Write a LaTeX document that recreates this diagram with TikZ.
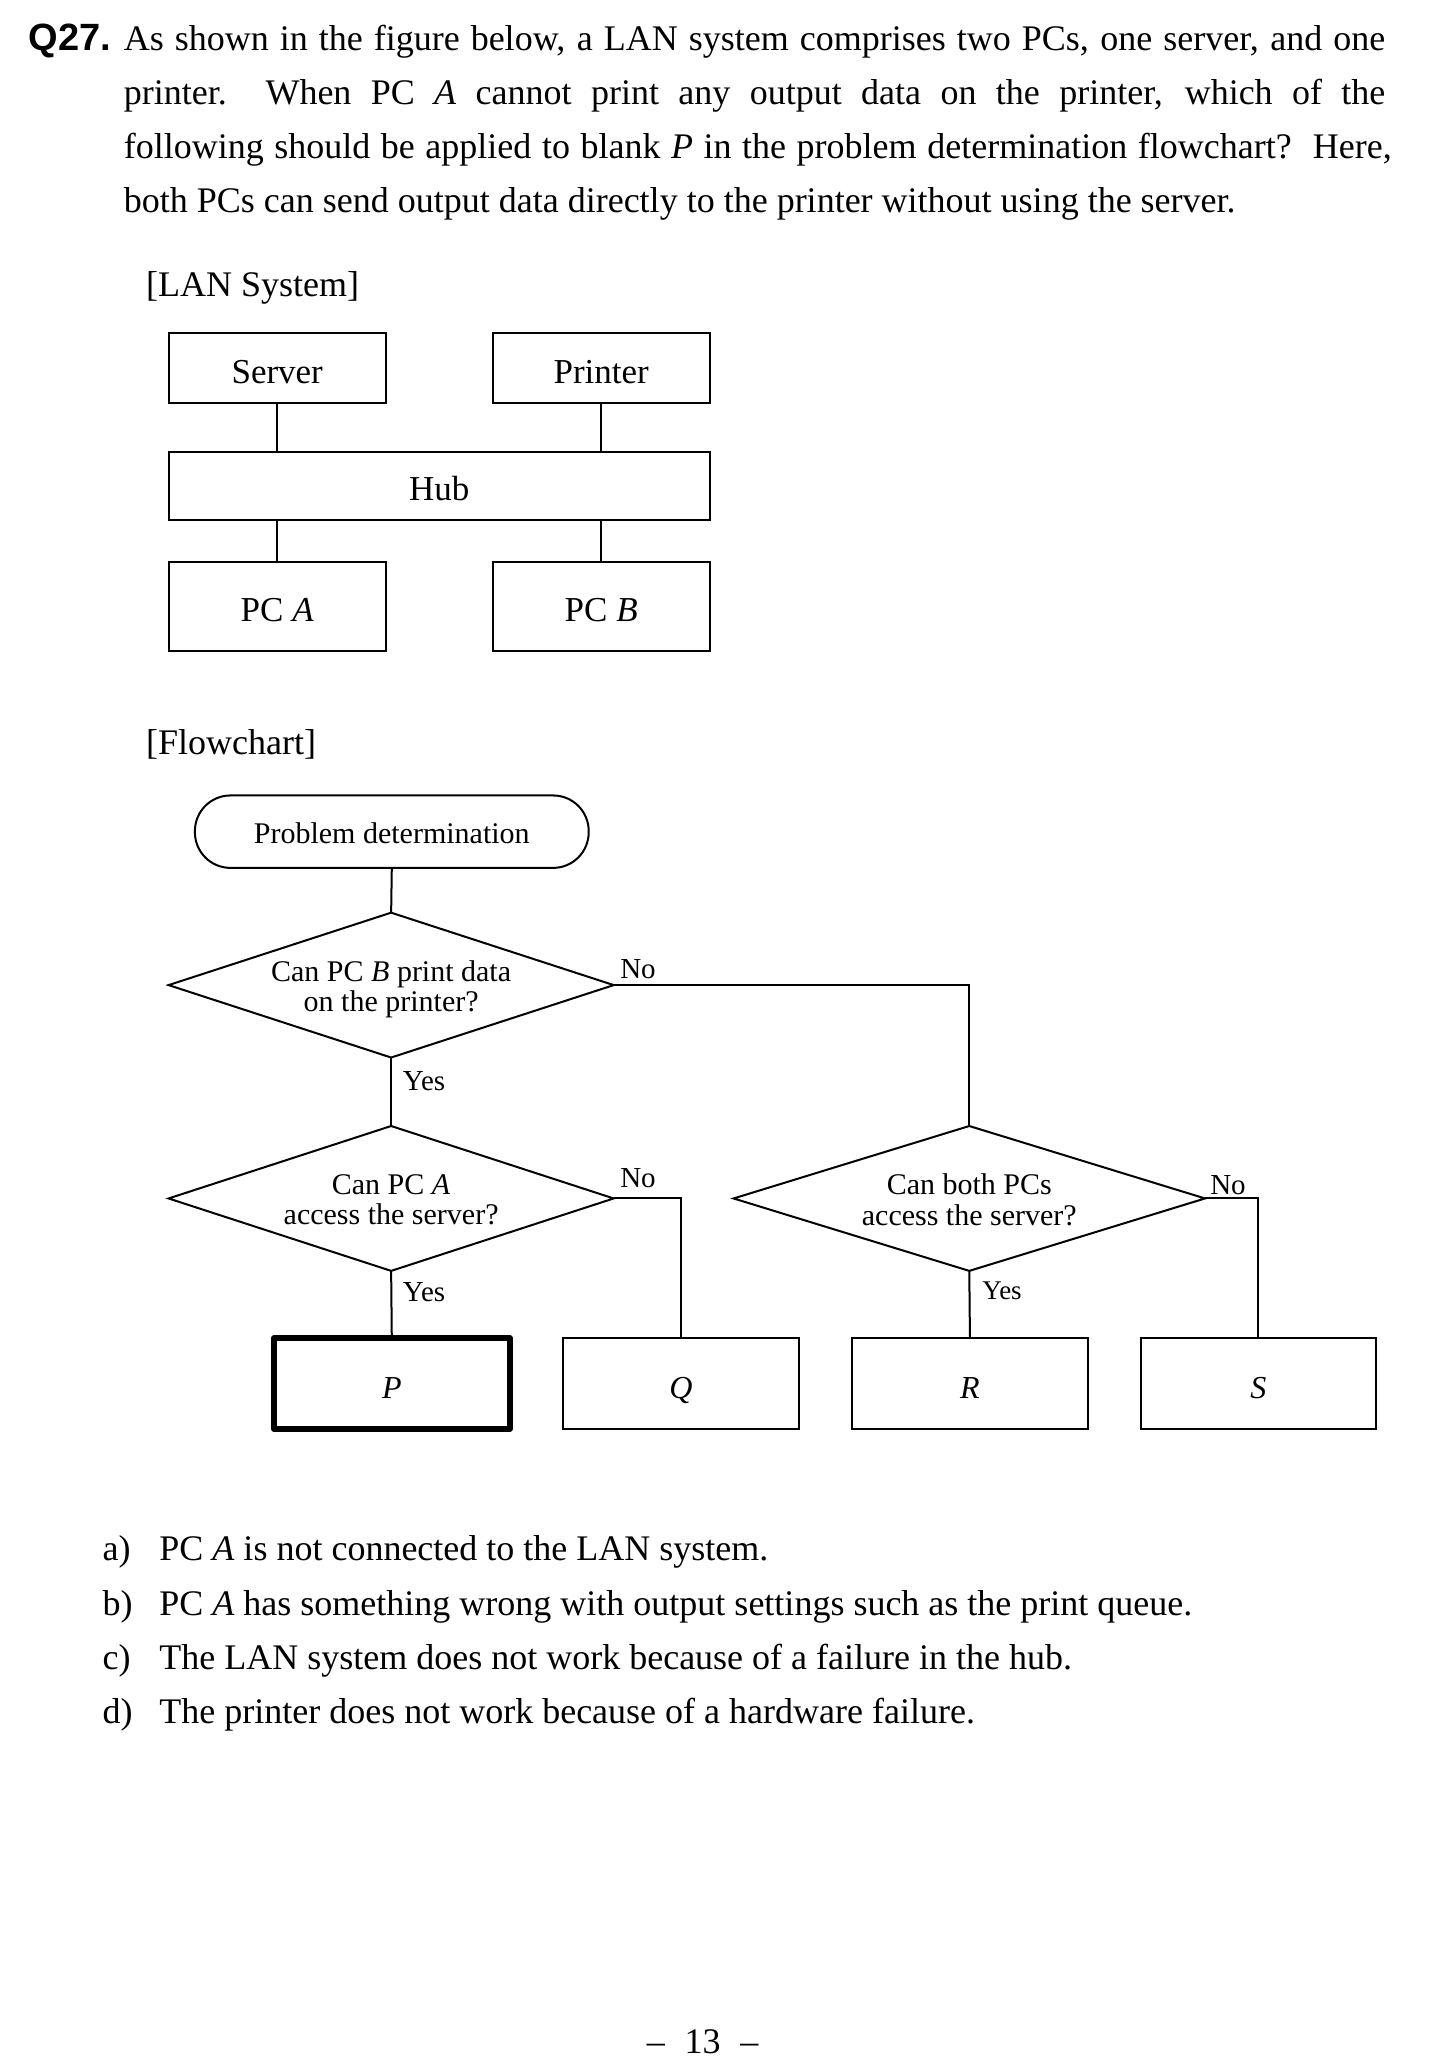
\documentclass[tikz,border=0pt]{standalone}
\usepackage{fontspec}
\setmainfont{Liberation Serif}
\newfontfamily\qsans{Liberation Sans}
\usetikzlibrary{shapes.geometric}
\def\dpx{0.6585pt}
\begin{document}
\begin{tikzpicture}[x=\dpx, y=-\dpx,
  every node/.style={inner sep=0pt, outer sep=0pt},
  body/.style={font=\fontsize{18}{27}\selectfont, anchor=base west},
  lanbox/.style={draw, line width=1pt, minimum width=165*\dpx, text height=15pt, text depth=0pt, font=\fontsize{17.5}{20}\selectfont},
  conn/.style={line width=1pt},
  term/.style={draw, line width=1pt, rounded corners=27*\dpx, minimum width=299*\dpx, minimum height=55*\dpx, text height=12pt, text depth=0pt, font=\fontsize{15}{16}\selectfont},
  dia/.style={draw, diamond, line width=1pt, minimum width=338*\dpx, minimum height=110*\dpx},
  dtext/.style={align=center, font=\fontsize{15}{15.2}\selectfont},
  lbl/.style={anchor=base west, font=\fontsize{14.5}{15}\selectfont},
  fbox/.style={draw, line width=1pt, minimum width=179*\dpx, minimum height=69*\dpx, text height=14.6pt, text depth=0pt, font=\fontsize{16}{17}\selectfont\itshape},
  pbox/.style={fbox, line width=3pt, line join=round}
]
\useasboundingbox (0,0) rectangle (1101,1568);

% question text
\node[anchor=base west, font=\fontsize{19}{27}\qsans\bfseries] (qn) at (22,38) {Q27.};
\node[body] (l1) at (94,38) {\makebox[630.8pt][s]{As shown in the figure below, a LAN system comprises two PCs, one server, and one}};
\node[body] (l2) at (94,79) {\makebox[630.8pt][s]{printer.\ \ When PC \textit{A} cannot print any output data on the printer, which of the}};
\node[body] (l3) at (94,120) {\makebox[634pt][s]{following should be applied to blank \textit{P} in the problem determination flowchart?\ \ Here,}};
\node[body] (l4) at (94,161) {both PCs can send output data directly to the printer without using the server.};

\node[body] (lanttl) at (111,225) {[LAN System]};
\node[body] (flttl) at (111,573) {[Flowchart]};

% LAN system
\node[lanbox, minimum height=53*\dpx] (server) at (210.5,279.5) {Server};
\node[lanbox, minimum height=53*\dpx] (printer) at (456.5,279.5) {Printer};
\node[lanbox, minimum width=411*\dpx, minimum height=52*\dpx] (hub) at (333.5,369) {Hub};
\node[lanbox, minimum height=67*\dpx] (pca) at (210.5,460.5) {PC \textit{A}};
\node[lanbox, minimum height=67*\dpx] (pcb) at (456.5,460.5) {PC \textit{B}};
\draw[conn] (server.south) -- (server.south |- hub.north);
\draw[conn] (printer.south) -- (printer.south |- hub.north);
\draw[conn] (pca.north) -- (pca.north |- hub.south);
\draw[conn] (pcb.north) -- (pcb.north |- hub.south);

% flowchart
\node[term] (start) at (297.5,631.5) {Problem determination};
\node[dia] (d1) at (297,748) {};
\node[dtext] (d1t) at (297,751) {Can PC \textit{B} print data\\on the printer?};
\node[dia] (d2) at (297,910) {};
\node[dtext] (d2t) at (297,911) {Can PC \textit{A}\\access the server?};
\node[dia, minimum width=358*\dpx] (d3) at (736,910) {};
\node[dtext] (d3t) at (736,911) {Can both PCs\\access the server?};

\node[pbox] (P) at (297.5,1050.5) {P};
\node[fbox] (Q) at (517,1050.5) {Q};
\node[fbox] (R) at (736.5,1050.5) {R};
\node[fbox] (S) at (955.5,1050.5) {S};

\draw[conn] (start.south) -- (d1.north);
\draw[conn] (d1.south) -- (d2.north);
\draw[conn] (d1.east) -| (d3.north);
\draw[conn] (d2.south) -- (P.north);
\draw[conn] (d2.east) -| (Q.north);
\draw[conn] (d3.south) -- (R.north);
\draw[conn] (d3.east) -| (S.north);

\node[lbl] (no1) at (471,743) {No};
\node[lbl] (yes1) at (306,828) {Yes};
\node[lbl] (no2) at (471,902) {No};
\node[lbl] (yes2) at (306,988) {Yes};
\node[lbl] (no3) at (919,907) {No};
\node[lbl, font=\fontsize{13.5}{14}\selectfont] (yes3) at (746,987) {Yes};

% answers
\node[body] (ka) at (78,1185) {a)};
\node[body] (ta) at (121,1185) {PC \textit{A} is not connected to the LAN system.};
\node[body] (kb) at (78,1227) {b)};
\node[body] (tb) at (121,1227) {PC \textit{A} has something wrong with output settings such as the print queue.};
\node[body] (kc) at (78,1268) {c)};
\node[body] (tc) at (121,1268) {The LAN system does not work because of a failure in the hub.};
\node[body] (kd) at (78,1309) {d)};
\node[body] (td) at (121,1309) {The printer does not work because of a hardware failure.};

\node[anchor=base, font=\fontsize{18}{20}\selectfont] (pg) at (533.5,1559) {–\hspace{0.55em}13\hspace{0.55em}–};
\end{tikzpicture}
\end{document}
